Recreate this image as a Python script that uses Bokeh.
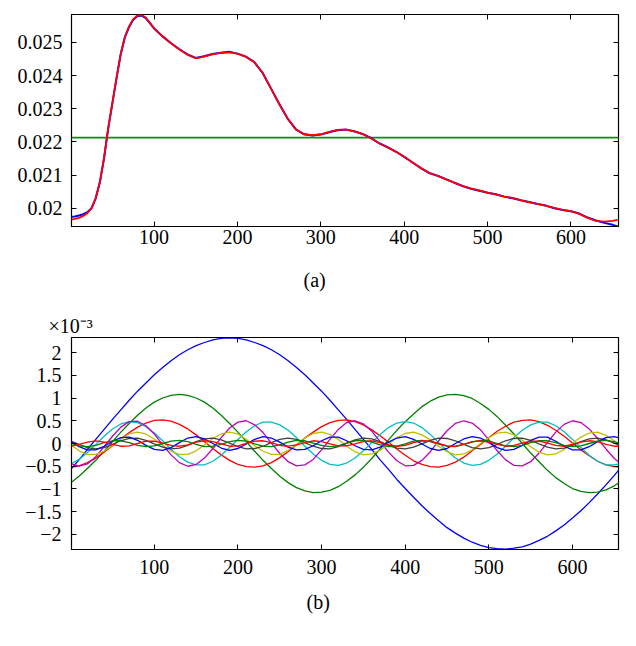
from bokeh.plotting import figure
from bokeh.models import LinearAxis, FixedTicker, Range1d, Title
from bokeh.layouts import column
from bokeh.embed import file_html
from bokeh.resources import INLINE

FONT = "Liberation Serif"
FS = "20px"

# ---------------- data ----------------
x_samples = [1] + list(range(10, 651, 10)) + [656]

# panel (a): original signal (blue), reconstruction (red), mean level (green)
xa_samples = [1] + list(range(5, 100, 5)) + list(range(100, 651, 10)) + [656]
signal_orig = [
    0.01974, 0.01975, 0.01978, 0.01982, 0.01988, 0.02000, 0.02030, 0.02078, 0.02150, 0.02240,
    0.02316, 0.02392, 0.02464, 0.02515, 0.02546, 0.02568, 0.02579, 0.02581, 0.02573, 0.02558,
    0.02542, 0.02518, 0.02498, 0.02480, 0.02464, 0.02453, 0.02458, 0.02465, 0.02469, 0.02472,
    0.02466, 0.02457, 0.02441, 0.02409, 0.02362, 0.02315, 0.02271, 0.02238, 0.02223, 0.02219,
    0.02222, 0.02229, 0.02235, 0.02237, 0.02232, 0.02224, 0.02212, 0.02196, 0.02184, 0.02171,
    0.02155, 0.02138, 0.02121, 0.02106, 0.02098, 0.02088, 0.02077, 0.02067, 0.02059, 0.02053,
    0.02047, 0.02042, 0.02035, 0.02030, 0.02024, 0.02019, 0.02013, 0.02008, 0.02000, 0.01995,
    0.01991, 0.01984, 0.01972, 0.01963, 0.01956, 0.01950, 0.01945,
]
signal_recon = [
    0.01966, 0.01968, 0.01971, 0.01977, 0.01985, 0.02000, 0.02030, 0.02079, 0.02151, 0.02241,
    0.02317, 0.02393, 0.02465, 0.02517, 0.02548, 0.02570, 0.02581, 0.02583, 0.02575, 0.02559,
    0.02543, 0.02519, 0.02498, 0.02479, 0.02463, 0.02452, 0.02457, 0.02464, 0.02468, 0.02470,
    0.02466, 0.02457, 0.02441, 0.02409, 0.02362, 0.02315, 0.02271, 0.02238, 0.02223, 0.02220,
    0.02223, 0.02230, 0.02236, 0.02238, 0.02232, 0.02224, 0.02211, 0.02196, 0.02183, 0.02170,
    0.02155, 0.02138, 0.02121, 0.02107, 0.02098, 0.02087, 0.02077, 0.02067, 0.02060, 0.02054,
    0.02047, 0.02041, 0.02035, 0.02031, 0.02024, 0.02018, 0.02013, 0.02007, 0.02001, 0.01995,
    0.01991, 0.01983, 0.01971, 0.01962, 0.01960, 0.01962, 0.01965,
]
mean_x = [1, 657]
mean_level = [0.02213, 0.02213]

# panel (b): components (units of 1e-3)
comp1 = [
    -0.55, -0.36, -0.13, 0.09, 0.31, 0.53, 0.74, 0.95, 1.15, 1.33,
    1.51, 1.67, 1.82, 1.95, 2.06, 2.15, 2.22, 2.28, 2.31, 2.32,
    2.31, 2.28, 2.22, 2.15, 2.06, 1.95, 1.82, 1.67, 1.51, 1.33,
    1.15, 0.95, 0.74, 0.53, 0.31, 0.09, -0.13, -0.36, -0.57, -0.79,
    -0.99, -1.18, -1.37, -1.54, -1.70, -1.85, -1.97, -2.08, -2.17, -2.24,
    -2.29, -2.31, -2.32, -2.30, -2.27, -2.21, -2.13, -2.04, -1.92, -1.79,
    -1.64, -1.48, -1.30, -1.11, -0.91, -0.70, -0.57,
]
comp2 = [
    -0.85, -0.72, -0.55, -0.37, -0.17, 0.04, 0.25, 0.44, 0.62, 0.78,
    0.91, 1.00, 1.06, 1.08, 1.06, 1.00, 0.91, 0.78, 0.62, 0.44,
    0.25, 0.04, -0.17, -0.37, -0.55, -0.72, -0.86, -0.97, -1.04, -1.08,
    -1.07, -1.03, -0.95, -0.83, -0.69, -0.52, -0.33, -0.12, 0.08, 0.29,
    0.48, 0.65, 0.81, 0.93, 1.02, 1.07, 1.08, 1.05, 0.99, 0.88,
    0.75, 0.59, 0.40, 0.21, 0.00, -0.21, -0.40, -0.59, -0.75, -0.88,
    -0.99, -1.05, -1.08, -1.07, -1.02, -0.93, -0.86,
]
comp3 = [
    -0.52, -0.49, -0.42, -0.32, -0.19, -0.05, 0.10, 0.24, 0.36, 0.45,
    0.51, 0.52, 0.49, 0.42, 0.32, 0.19, 0.04, -0.11, -0.25, -0.37,
    -0.46, -0.51, -0.52, -0.49, -0.42, -0.31, -0.18, -0.03, 0.12, 0.25,
    0.37, 0.46, 0.51, 0.52, 0.48, 0.41, 0.30, 0.17, 0.03, -0.12,
    -0.26, -0.38, -0.46, -0.51, -0.52, -0.48, -0.41, -0.30, -0.16, -0.02,
    0.13, 0.27, 0.38, 0.47, 0.51, 0.52, 0.48, 0.40, 0.29, 0.16,
    0.01, -0.14, -0.27, -0.39, -0.47, -0.51, -0.52,
]
comp4 = [
    -0.44, -0.35, -0.20, -0.02, 0.16, 0.32, 0.43, 0.48, 0.46, 0.37,
    0.23, 0.06, -0.13, -0.29, -0.41, -0.47, -0.47, -0.39, -0.26, -0.09,
    0.09, 0.26, 0.39, 0.47, 0.47, 0.41, 0.29, 0.13, -0.06, -0.23,
    -0.37, -0.46, -0.48, -0.43, -0.32, -0.16, 0.02, 0.20, 0.35, 0.45,
    0.48, 0.45, 0.35, 0.20, 0.02, -0.16, -0.32, -0.43, -0.48, -0.46,
    -0.37, -0.23, -0.06, 0.13, 0.29, 0.41, 0.47, 0.47, 0.39, 0.26,
    0.09, -0.09, -0.26, -0.39, -0.47, -0.47, -0.45,
]
comp5 = [
    -0.45, -0.50, -0.45, -0.29, -0.07, 0.16, 0.36, 0.48, 0.49, 0.39,
    0.21, -0.03, -0.25, -0.42, -0.50, -0.46, -0.32, -0.11, 0.13, 0.34,
    0.47, 0.50, 0.41, 0.24, 0.01, -0.22, -0.40, -0.49, -0.47, -0.35,
    -0.14, 0.09, 0.31, 0.46, 0.50, 0.43, 0.27, 0.04, -0.19, -0.38,
    -0.49, -0.48, -0.37, -0.18, 0.06, 0.28, 0.44, 0.50, 0.45, 0.30,
    0.08, -0.16, -0.36, -0.48, -0.49, -0.40, -0.21, 0.02, 0.25, 0.42,
    0.50, 0.46, 0.32, 0.11, -0.12, -0.33, -0.42,
]
comp6 = [
    -0.04, -0.16, -0.24, -0.24, -0.17, -0.04, 0.10, 0.21, 0.25, 0.21,
    0.10, -0.04, -0.17, -0.24, -0.24, -0.16, -0.03, 0.11, 0.21, 0.25,
    0.21, 0.09, -0.05, -0.17, -0.24, -0.24, -0.15, -0.02, 0.12, 0.22,
    0.25, 0.20, 0.09, -0.06, -0.18, -0.25, -0.23, -0.15, -0.01, 0.13,
    0.22, 0.25, 0.19, 0.08, -0.06, -0.18, -0.25, -0.23, -0.14, 0.00,
    0.13, 0.23, 0.25, 0.19, 0.07, -0.07, -0.19, -0.25, -0.23, -0.13,
    0.01, 0.14, 0.23, 0.25, 0.18, 0.06, -0.02,
]
comp7 = [
    0.05, -0.02, -0.09, -0.12, -0.09, -0.02, 0.06, 0.11, 0.12, 0.07,
    -0.01, -0.08, -0.12, -0.10, -0.04, 0.04, 0.10, 0.12, 0.08, 0.01,
    -0.07, -0.12, -0.11, -0.06, 0.02, 0.09, 0.12, 0.09, 0.02, -0.06,
    -0.11, -0.12, -0.07, 0.01, 0.08, 0.12, 0.10, 0.04, -0.04, -0.10,
    -0.12, -0.08, -0.01, 0.07, 0.12, 0.11, 0.06, -0.02, -0.09, -0.12,
    -0.09, -0.02, 0.06, 0.11, 0.12, 0.07, -0.01, -0.08, -0.12, -0.10,
    -0.04, 0.04, 0.10, 0.12, 0.08, 0.01, -0.04,
]
comp8 = [
    0.03, -0.07, -0.14, -0.14, -0.06, 0.05, 0.13, 0.14, 0.07, -0.04,
    -0.13, -0.15, -0.09, 0.02, 0.12, 0.15, 0.10, 0.00, -0.10, -0.15,
    -0.11, -0.01, 0.09, 0.15, 0.12, 0.03, -0.08, -0.14, -0.13, -0.05,
    0.06, 0.14, 0.14, 0.06, -0.05, -0.13, -0.14, -0.08, 0.03, 0.12,
    0.15, 0.09, -0.01, -0.11, -0.15, -0.11, 0.00, 0.10, 0.15, 0.12,
    0.02, -0.09, -0.15, -0.13, -0.04, 0.07, 0.14, 0.14, 0.05, -0.06,
    -0.14, -0.14, -0.07, 0.04, 0.13, 0.15, 0.12,
]
comp9 = [
    0.00, -0.05, -0.07, -0.04, 0.02, 0.06, 0.06, 0.02, -0.04, -0.07,
    -0.05, 0.00, 0.05, 0.07, 0.04, -0.02, -0.07, -0.06, -0.02, 0.04,
    0.07, 0.05, -0.01, -0.06, -0.07, -0.03, 0.03, 0.07, 0.06, 0.01,
    -0.04, -0.07, -0.05, 0.01, 0.06, 0.07, 0.03, -0.03, -0.07, -0.06,
    -0.01, 0.05, 0.07, 0.04, -0.01, -0.06, -0.07, -0.02, 0.03, 0.07,
    0.06, 0.00, -0.05, -0.07, -0.04, 0.02, 0.06, 0.06, 0.02, -0.04,
    -0.07, -0.05, 0.00, 0.05, 0.07, 0.04, 0.00,
]
comp10 = [
    -0.06, -0.02, 0.03, 0.06, 0.03, -0.02, -0.06, -0.05, 0.00, 0.05,
    0.05, 0.01, -0.04, -0.06, -0.03, 0.03, 0.06, 0.04, -0.01, -0.06,
    -0.05, 0.00, 0.05, 0.06, 0.02, -0.04, -0.06, -0.03, 0.02, 0.06,
    0.04, -0.01, -0.05, -0.05, -0.01, 0.04, 0.06, 0.02, -0.03, -0.06,
    -0.04, 0.02, 0.06, 0.05, 0.00, -0.05, -0.06, -0.02, 0.04, 0.06,
    0.03, -0.02, -0.06, -0.04, 0.01, 0.05, 0.05, 0.01, -0.04, -0.06,
    -0.02, 0.03, 0.06, 0.04, -0.02, -0.06, -0.06,
]
components = [comp1, comp2, comp3, comp4, comp5, comp6, comp7, comp8, comp9, comp10]
comp_colors = ["#0000ff", "#008000", "#ff0000", "#00bfbf", "#bf00bf",
               "#bfbf00", "#404040", "#0000ff", "#008000", "#ff0000"]

x_ticks = [100, 200, 300, 400, 500, 600]
x_tick_labels = ["100", "200", "300", "400", "500", "600"]
ya_ticks = [0.020, 0.021, 0.022, 0.023, 0.024, 0.025]
ya_tick_labels = ["0.02", "0.021", "0.022", "0.023", "0.024", "0.025"]
yb_ticks = [-2, -1.5, -1, -0.5, 0, 0.5, 1, 1.5, 2]
yb_tick_labels = ["\u22122", "\u22121.5", "\u22121", "\u22120.5", "0", "0.5", "1", "1.5", "2"]


def style_axes(p, xt, xl, yt, yl, x_standoff, y_standoff):
    p.xgrid.visible = False
    p.ygrid.visible = False
    p.outline_line_color = "black"
    p.outline_line_width = 1.2
    p.background_fill_color = "white"
    p.border_fill_color = "white"
    for ax, ticks, labels, standoff in ((p.xaxis[0], xt, xl, x_standoff),
                                        (p.yaxis[0], yt, yl, y_standoff)):
        ax.ticker = FixedTicker(ticks=ticks)
        ax.major_label_overrides = {t: l for t, l in zip(ticks, labels)}
        ax.major_tick_in = 5
        ax.major_tick_out = 0
        ax.minor_tick_line_color = None
        ax.axis_line_color = "black"
        ax.major_tick_line_color = "black"
        ax.major_label_text_font = FONT
        ax.major_label_text_font_size = FS
        ax.major_label_text_color = "black"
        ax.major_label_standoff = standoff
    for ticks, side in ((yt, "right"), (xt, "above")):
        a = LinearAxis(ticker=FixedTicker(ticks=ticks), major_label_text_color=None,
                       major_tick_in=5, major_tick_out=0, minor_tick_line_color=None,
                       axis_line_color=None, major_label_standoff=0,
                       major_tick_line_color="black")
        p.add_layout(a, side)


# ---------------- panel (a) ----------------
pa = figure(width=636, height=312, x_range=Range1d(1, 657), y_range=Range1d(0.01945, 0.02584),
            output_backend="svg", toolbar_location=None,
            min_border_left=71, min_border_right=14, min_border_top=14, min_border_bottom=86)
style_axes(pa, x_ticks, x_tick_labels, ya_ticks, ya_tick_labels, 3, 9)
pa.line(mean_x, mean_level, line_color="#108a10", line_width=1.6)
pa.line(xa_samples, signal_orig, line_color="#0000ff", line_width=2)
pa.line(xa_samples, signal_recon, line_color="#ff0000", line_width=1.8)
pa.add_layout(Title(text="(a)", align="left", offset=232, text_font=FONT, text_font_size=FS,
                    text_font_style="normal", text_color="black", standoff=41), "below")

# ---------------- panel (b) ----------------
pb = figure(width=636, height=325, x_range=Range1d(1, 655), y_range=Range1d(-2.33, 2.33),
            output_backend="svg", toolbar_location=None,
            min_border_left=68, min_border_right=18, min_border_top=25, min_border_bottom=88)
style_axes(pb, x_ticks, x_tick_labels, yb_ticks, yb_tick_labels, 10, 10)
for ys, c in zip(components, comp_colors):
    pb.line(x_samples, ys, line_color=c, line_width=1.3)
pb.add_layout(Title(text="(b)", align="left", offset=235, text_font=FONT, text_font_size=FS,
                    text_font_style="normal", text_color="black", standoff=25), "below")
pb.add_layout(Title(text="\u00d710\u207b\u00b3", align="left", offset=-23, text_font=FONT,
                    text_font_size=FS, text_font_style="normal", text_color="black",
                    standoff=1), "above")

layout = column(pa, pb, spacing=0)
open("out.html", "w").write(file_html(layout, INLINE))
